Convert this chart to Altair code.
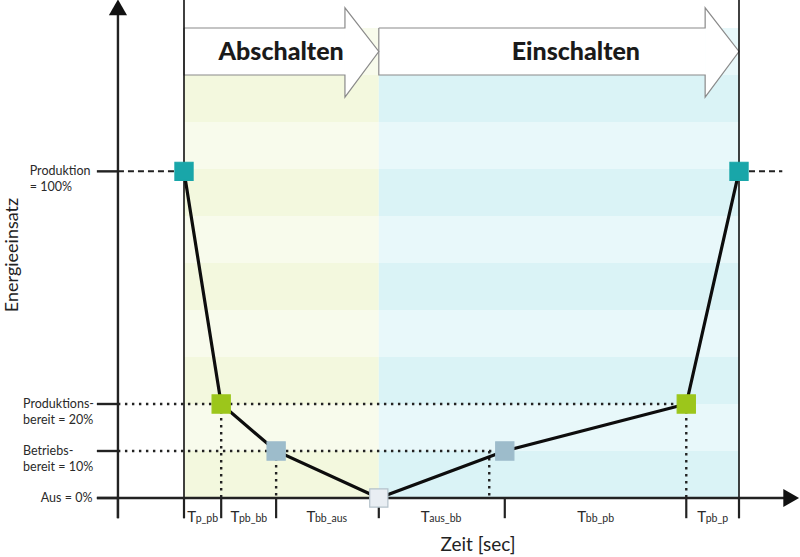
import altair as alt
import pandas as pd

# ---------------- data ----------------
state_time = [0, 6.7, 16.6, 35.1, 57.8, 90.5, 100]
state_energy = [100, 20, 10, 0, 10, 20, 100]
state_colors = ["#19a6a9", "#9cc61b", "#9dbccb", "#e9eef3", "#9dbccb", "#9cc61b", "#19a6a9"]
state_strokes = ["#19a6a9", "#9cc61b", "#9dbccb", "#b4c1ca", "#9dbccb", "#9cc61b", "#19a6a9"]

level_energy = [0, 10, 20, 100]
level_pos = [0, 1, 2, 6.95]
level_labels = ["Aus = 0%", "Betriebs-\nbereit = 10%", "Produktions-\nbereit = 20%", "Produktion\n= 100%"]

tick_time = [0, 6.7, 16.6, 35.1, 57.8, 90.5, 100]
interval_sub = ["p_pb", "pb_bb", "bb_aus", "aus_bb", "bb_pb", "pb_p"]

drop_time = [6.7, 16.6, 55.0, 90.5]
drop_energy = [20, 10, 10, 20]

phase_names = ["Abschalten", "Einschalten"]
phase_start = [0, 35.1]
phase_end = [35.1, 100]
phase_label_t = [17.5, 70.6]
phase_dark = ["#f3f8de", "#daf3f6"]
phase_light = ["#f8fbec", "#e8f8fa"]

N_BANDS = 10
Y_AXIS_T = -11.9
LEFT_TICK_T = -15.7
X_AXIS_END_T = 108.3

lvl = dict(zip(level_energy, level_pos))

xs = alt.Scale(domain=[0, 100], range=[184, 739], zero=False, nice=False)
ys = alt.Scale(domain=[0, 10], range=[498, 28], zero=False, nice=False)
X = lambda f: alt.X(f, type="quantitative", scale=xs, axis=None)
Y = lambda f: alt.Y(f, type="quantitative", scale=ys, axis=None)

# ---------------- stripes ----------------
rows = []
for p in range(2):
    for i in range(N_BANDS):
        rows.append(dict(x=phase_start[p], x2=phase_end[p], y=i, y2=i + 1,
                         c=phase_dark[p] if i % 2 == 0 else phase_light[p]))
stripes = alt.Chart(pd.DataFrame(rows)).mark_rect(strokeWidth=0).encode(
    x=X("x"), x2="x2", y=Y("y"), y2="y2", color=alt.Color("c:N", scale=None))

# ---------------- phase arrows ----------------
HEAD = 6.1
body_rows, head_rows, out_rows = [], [], []
for p in range(2):
    s, e = phase_start[p], phase_end[p]
    hs = e - HEAD
    body_rows.append(dict(x=s, x2=hs, y=9, y2=10))
    head_rows += [dict(ph=p, x=hs, y=10.43, y2=8.53), dict(ph=p, x=e, y=9.5, y2=9.5)]
    pts = [(s, 10), (hs, 10), (hs, 10.43), (e, 9.5), (hs, 8.53), (hs, 9), (s, 9), (s, 10)]
    out_rows += [dict(ph=p, o=k, x=a, y=b) for k, (a, b) in enumerate(pts)]
arrow_body = alt.Chart(pd.DataFrame(body_rows)).mark_rect(fill="white", strokeWidth=0).encode(
    x=X("x"), x2="x2", y=Y("y"), y2="y2")
arrow_head = alt.Chart(pd.DataFrame(head_rows)).mark_area(fill="white", opacity=1).encode(
    x=X("x"), y=Y("y"), y2="y2", detail="ph:N")
arrow_out = alt.Chart(pd.DataFrame(out_rows)).mark_line(color="#8a8a8a", strokeWidth=1.2).encode(
    x=X("x"), y=Y("y"), order="o:Q", detail="ph:N")
phase_txt = alt.Chart(pd.DataFrame(dict(x=phase_label_t, n=phase_names))).mark_text(
    font="Lato", fontWeight=900, fontSize=25, color="#1a1a1a", baseline="middle").encode(
    x=X("x"), y=alt.Y(datum=9.5, scale=ys, axis=None), text="n:N")

# ---------------- frame lines & axes ----------------
bounds = alt.Chart(pd.DataFrame(dict(x=[0, 100]))).mark_rule(color="#111", strokeWidth=1.6).encode(
    x=X("x"), y=alt.Y(datum=-0.43, scale=ys, axis=None), y2=alt.Y2(datum=10.7))
x_axis = alt.Chart(pd.DataFrame(dict(x=[LEFT_TICK_T], x2=[X_AXIS_END_T], y=[0]))).mark_rule(
    color="#222", strokeWidth=2.4).encode(x=X("x"), x2="x2", y=Y("y"))
y_axis = alt.Chart(pd.DataFrame(dict(x=[Y_AXIS_T], y=[-0.43], y2=[10.3]))).mark_rule(
    color="#222", strokeWidth=2.4).encode(x=X("x"), y=Y("y"), y2="y2")
arrow_up = alt.Chart(pd.DataFrame(dict(x=[Y_AXIS_T], y=[10.44]))).mark_point(
    shape="triangle-up", size=330, filled=True, color="#111", opacity=1).encode(x=X("x"), y=Y("y"))
arrow_right = alt.Chart(pd.DataFrame(dict(x=[109.4], y=[0]))).mark_point(
    shape="triangle-right", size=330, filled=True, color="#111", opacity=1).encode(x=X("x"), y=Y("y"))
y_ticks = alt.Chart(pd.DataFrame(dict(y=level_pos))).mark_rule(color="#222", strokeWidth=2.4).encode(
    x=alt.X(datum=LEFT_TICK_T, scale=xs, axis=None), x2=alt.X2(datum=Y_AXIS_T), y=Y("y"))
x_ticks = alt.Chart(pd.DataFrame(dict(x=[Y_AXIS_T] + tick_time))).mark_rule(color="#222", strokeWidth=2.2).encode(
    x=X("x"), y=alt.Y(datum=0, scale=ys, axis=None), y2=alt.Y2(datum=-0.43))

# ---------------- guides ----------------
g100 = pd.DataFrame(dict(x=[Y_AXIS_T, 100], x2=[0, X_AXIS_END_T - 0.5], y=[lvl[100]] * 2))
dash100 = alt.Chart(g100).mark_rule(color="#222", strokeWidth=2, strokeDash=[6, 4]).encode(
    x=X("x"), x2="x2", y=Y("y"))
gdot = pd.DataFrame(dict(x=[Y_AXIS_T, Y_AXIS_T], x2=[90.5, 57.8], y=[lvl[20], lvl[10]]))
dot_h = alt.Chart(gdot).mark_rule(color="#222", strokeWidth=2.4, strokeDash=[2.4, 4.6]).encode(
    x=X("x"), x2="x2", y=Y("y"))
ddrop = pd.DataFrame(dict(x=drop_time, y=[lvl[e] for e in drop_energy]))
dot_v = alt.Chart(ddrop).mark_rule(color="#222", strokeWidth=2.4, strokeDash=[2.4, 4.6]).encode(
    x=X("x"), y=Y("y"), y2=alt.Y2(datum=0))

# ---------------- curve & states ----------------
states = pd.DataFrame(dict(t=state_time, lv=[lvl[e] for e in state_energy], i=range(len(state_time)),
                           c=state_colors, s=state_strokes))
curve = alt.Chart(states).mark_line(color="#0d0d0d", strokeWidth=3.2).encode(
    x=X("t"), y=Y("lv"), order="i:Q")
squares = alt.Chart(states).mark_square(size=330, opacity=1, filled=True, strokeWidth=1.2).encode(
    x=X("t"), y=Y("lv"), fill=alt.Fill("c:N", scale=None), stroke=alt.Stroke("s:N", scale=None))

# ---------------- labels ----------------
ylab = pd.DataFrame(dict(y=level_pos, text=level_labels))
ylab_mid = alt.Chart(ylab[(ylab.y > 0) & (ylab.y < 5)]).mark_text(
    font="Lato", fontSize=12.5, color="#2a2a2a", align="left", baseline="middle", lineHeight=16,
    lineBreak="\n").encode(
    x=alt.X(datum=-29.0, scale=xs, axis=None), y=Y("y"), text="text:N")
ylab_top = alt.Chart(ylab[ylab.y > 5]).mark_text(
    font="Lato", fontSize=12.5, color="#2a2a2a", align="left", baseline="middle", lineHeight=16,
    lineBreak="\n").encode(
    x=alt.X(datum=-27.8, scale=xs, axis=None), y=Y("y"), text="text:N")
ylab_aus = alt.Chart(ylab[ylab.y == 0]).mark_text(
    font="Lato", fontSize=12.5, color="#2a2a2a", align="right", baseline="middle").encode(
    x=alt.X(datum=-16.5, scale=xs, axis=None), y=Y("y"), text="text:N")

PX_PER_T = 5.55
W_T, W_CH = 8.5, 5.6
lab_rows = []
for k, sub in enumerate(interval_sub):
    c = (tick_time[k] + tick_time[k + 1]) / 2
    w = W_T + W_CH * len(sub)
    left = c - (w / 2) / PX_PER_T
    lab_rows.append(dict(tT=left, tS=left + W_T / PX_PER_T, sub=sub))
labs = pd.DataFrame(lab_rows)
lab_T = alt.Chart(labs).mark_text(font="Lato", fontSize=15, color="#2a2a2a", align="left",
                                  baseline="alphabetic").encode(
    x=X("tT"), y=alt.Y(datum=-0.5, scale=ys, axis=None), text=alt.value("T"))
lab_S = alt.Chart(labs).mark_text(font="Lato", fontSize=10.5, color="#2a2a2a", align="left",
                                  baseline="alphabetic").encode(
    x=X("tS"), y=alt.Y(datum=-0.5, scale=ys, axis=None), text="sub:N")

title_x = alt.Chart(pd.DataFrame(dict(a=[1]))).mark_text(
    font="Lato", fontSize=19, color="#222", align="center", baseline="middle").encode(
    x=alt.value(478), y=alt.value(545), text=alt.value("Zeit [sec]"))
title_y = alt.Chart(pd.DataFrame(dict(a=[1]))).mark_text(
    font="Lato", fontSize=18, color="#222", align="center", baseline="middle", angle=270).encode(
    x=alt.value(13), y=alt.value(255), text=alt.value("Energieeinsatz"))

chart = alt.layer(
    stripes, arrow_body, arrow_head, arrow_out, phase_txt,
    dash100, dot_h, dot_v,
    bounds, x_axis, y_axis, y_ticks, x_ticks, arrow_up, arrow_right,
    curve, squares,
    ylab_mid, ylab_top, ylab_aus, lab_T, lab_S, title_x, title_y,
).properties(width=800, height=557, autosize=alt.AutoSizeParams(type="none"), padding=0,
             background="white").configure_view(strokeWidth=0)

chart.save("out.html", embed_options={"renderer": "svg", "actions": False})
